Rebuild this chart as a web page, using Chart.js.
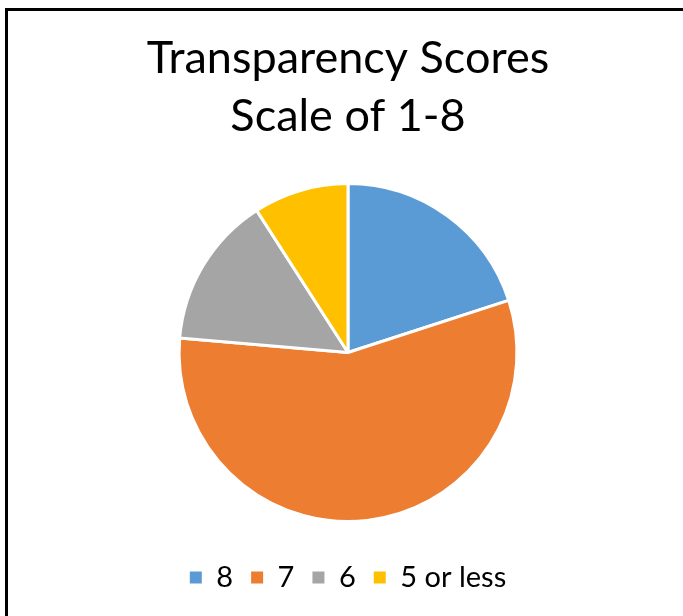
<!DOCTYPE html>
<html>
<head>
<meta charset="utf-8">
<script src="https://cdn.jsdelivr.net/npm/chart.js@4.4.0/dist/chart.umd.min.js"></script>
<style>
  html, body { margin: 0; padding: 0; background: #fff; overflow: hidden; }
  #wrap { position: relative; width: 683px; height: 616px; }
  #frame {
    position: absolute; left: 5px; top: 8px; width: 800px; height: 800px;
    border-left: 3px solid #000; border-top: 3px solid #000; pointer-events: none;
  }
  canvas { position: absolute; left: 0; top: 0; }
</style>
</head>
<body>
<div id="wrap">
  <canvas id="pieChart" width="683" height="616"></canvas>
  <div id="frame"></div>
</div>
<script>
// Data
const scoreLabels = ["8", "7", "6", "5 or less"];
const scoreCounts = [11, 31, 8, 5];
const sliceColors = ["#5B9BD5", "#ED7D31", "#A5A5A5", "#FFC000"];
const titleLines = ["Transparency Scores", "Scale of 1-8"];

const ctx = document.getElementById("pieChart").getContext("2d");

new Chart(ctx, {
    type: "pie",
    data: {
        labels: scoreLabels,
        datasets: [
            {
                data: scoreCounts,
                backgroundColor: sliceColors,
                borderColor: "#ffffff",
                borderWidth: 3,
            },
        ],
    },
    options: {
        responsive: false,
        animation: false,
        layout: {
            padding: { top: 23, left: 13, right: 0, bottom: 14 },
        },
        plugins: {
            title: {
                display: true,
                text: titleLines,
                color: "#000",
                font: { family: "Lato", size: 45, weight: "normal", lineHeight: 1.29 },
                padding: { top: 6, bottom: 37 },
            },
            legend: {
                position: "bottom",
                // empty title only used as a spacer above the legend row
                title: {
                    display: true,
                    text: "",
                    font: { size: 10, lineHeight: 1 },
                    padding: { top: 12, bottom: 0 },
                },
                labels: {
                    color: "#000",
                    boxWidth: 12,
                    boxHeight: 12,
                    padding: 18,
                    font: { family: "Lato", size: 29 },
                    generateLabels(chart) {
                        const items = Chart.overrides.pie.plugins.legend.labels.generateLabels(chart);
                        for (const item of items) {
                            item.lineWidth = 0;
                            item.strokeStyle = item.fillStyle;
                        }
                        return items;
                    },
                },
            },
            tooltip: { enabled: false },
        },
    },
});
</script>
</body>
</html>
